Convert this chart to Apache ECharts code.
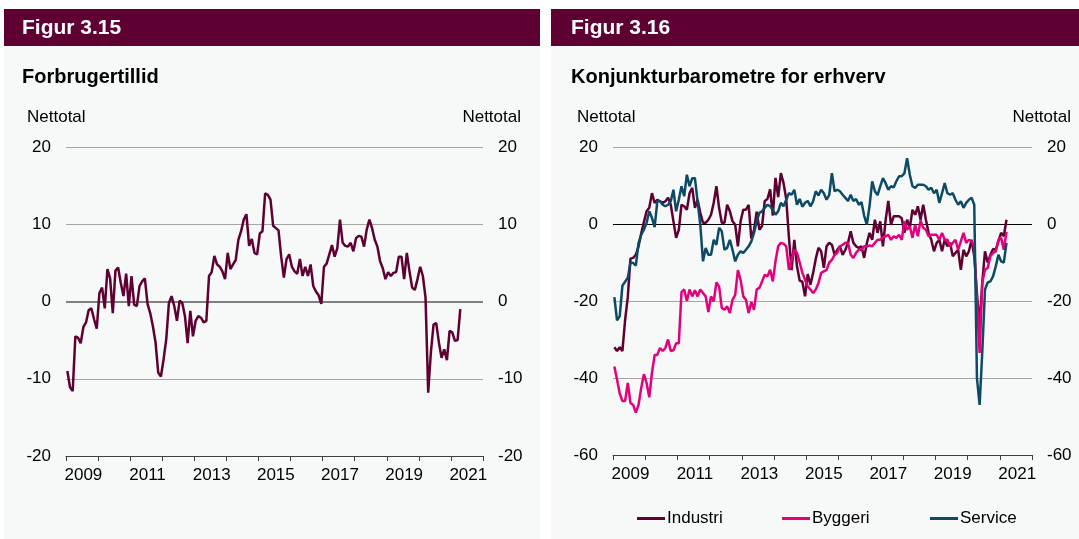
<!DOCTYPE html>
<html>
<head>
<meta charset="utf-8">
<script src="https://cdn.jsdelivr.net/npm/echarts@6/dist/echarts.min.js"></script>
<style>
  html, body { margin: 0; padding: 0; background: #ffffff; }
  #chart { width: 1079px; height: 539px; }
</style>
</head>
<body>
<div id="chart"></div>
<script>
  // maaneder jan 2009 - dec 2021 (kategoriakse)
  const firstYear = 2009
  const lastYear = 2021
  const months = []
  for (let y = firstYear; y <= lastYear; y++) {
    for (let m = 1; m <= 12; m++) months.push(y + '-' + (m < 10 ? '0' + m : m))
  }

  // Figur 3.15 - forbrugertillid, nettotal (jan 2009 - apr 2021)
  const forbrugertillid = [
    -9.0, -11.1, -11.6, -4.5, -4.7, -5.4, -3.3, -2.7, -1.1, -0.9, -2.3, -3.5,
    1.1, 1.8, -0.9, 4.2, 3.0, -1.5, 4.0, 4.4, 2.4, 0.7, 3.6, -0.6,
    3.3, -0.4, -0.6, 2.0, 2.6, 3.0, -0.3, -1.5, -3.2, -5.3, -9.2, -9.7,
    -7.5, -4.9, -0.2, 0.7, -0.6, -2.5, 0.1, -0.2, -1.9, -5.4, -1.2, -4.5,
    -2.5, -1.9, -2.1, -2.7, -2.5, 3.3, 3.8, 5.9, 4.8, 4.5, 3.9, 2.9,
    6.3, 4.2, 4.8, 5.4, 8.0, 9.1, 10.6, 11.3, 7.2, 8.1, 6.3, 6.1,
    8.8, 9.1, 14.0, 13.8, 13.2, 9.8, 9.5, 9.2, 5.8, 3.1, 5.5, 6.1,
    4.5, 3.9, 3.6, 5.5, 3.3, 4.5, 3.3, 4.8, 2.0, 1.3, 0.8, -0.3,
    4.5, 4.9, 6.1, 7.3, 5.8, 6.9, 10.6, 7.6, 7.2, 7.1, 7.6, 6.5,
    8.2, 8.5, 8.4, 7.1, 9.3, 10.6, 9.5, 8.0, 7.1, 5.2, 4.3, 2.9,
    3.8, 3.3, 3.7, 3.8, 5.8, 5.8, 2.9, 6.3, 3.9, 1.8, 1.5, 2.9,
    4.5, 3.3, 0.5, -11.8, -6.6, -3.0, -2.8, -5.3, -7.3, -6.2, -7.6, -3.8,
    -4.0, -5.1, -5.0, -1.0
  ]

  // Figur 3.16 - konjunkturbarometre, nettotal (jan 2009 - mar 2021)
  const industri = [
    -32, -33, -32, -33, -25, -19, -9, -8.8, -8, -5.8, -2.5, 0.5,
    3.3, 4.2, 8, 5.5, 6.3, 5.9, 5.5, 5.9, 6.8, 5, 0.7, -3.6,
    -1.5, 5, 4.6, 3.7, 8, 9.4, 4.2, 6.3, 2.9, 0.3, 0.3, 1.1,
    2.4, 5.5, 9.8, 4.2, 0.3, 0.3, 5, 3.3, 0.7, -0.2, -5.8, 0.7,
    3.7, 3.7, 5, -3.8, -1.5, 3.2, -1.5, -0.5, 6, 6.5, 9, 2.2,
    12, 7, 13.2, 10.6, 6.5, -3.5, -12, -4.1, -11, -14.7, -15, -18.8,
    -13, -15.8, -12.7, -9, -6.2, -7.1, -11.4, -5.8, -4.9, -5.4, -8, -6.7,
    -5.8, -8, -6.7, -4.9, -1.9, -4.9, -5.8, -6.2, -5.8, -8.8, -5, -2.3,
    -4.1, 1.1, -2.3, 0.7, -5.8, 1, 6, -0.2, 2, 2, 2, 1.5,
    -2.3, 1.1, -1, 3.7, 2.4, 4.6, 1.1, 5, 1.1, -2.3, -4.1, -7.1,
    -4.9, -4.1, -7.1, -4.1, -5.8, -4.9, -8.4, -7.5, -6.7, -11.9, -6.7, -8.4,
    -7.1, -4.1, -8.4, -18, -26.6, -15, -7.1, -10, -8, -6.5, -6.7, -4.5,
    -2.3, -3.2, 1.1
  ]
  const byggeri = [
    -37, -40.4, -44, -46, -46, -41.3, -46.5, -47, -49, -47, -42.6, -39,
    -41.3, -45, -38.7, -34, -34, -32.2, -33, -32.2, -30, -33, -32.8, -31,
    -31, -17.7, -17, -20, -17, -18.8, -17.2, -18.8, -17, -17.9, -18.8, -22.9,
    -18.8, -20.1, -15.2, -16.2, -21.8, -22.3, -21.4, -23.1, -19.7, -18.4, -12, -14.5,
    -18.8, -19.7, -23.1, -20.3, -22.3, -17, -16.6, -14.9, -13.2, -13.6, -11.9, -14.9,
    -9.7, -5.8, -4.9, -5.1, -5.8, -11.9, -9.3, -6.7, -7.5, -10, -12.7, -14.5,
    -16.2, -17, -17.9, -17, -15.3, -12.7, -12.3, -11.9, -10, -9.3, -8, -7.5,
    -5.8, -5.4, -4.9, -4.9, -8, -8.8, -7.5, -6.7, -6.7, -5.8, -5.8, -5.6,
    -5.8, -4.9, -4.1, -4.1, -3.4, -3.2, -2.8, -4.1, -3.2, -3.6, -2.8, -4.1,
    0.7, -1.5, -0.6, -3.6, -0.2, -3.2, 0.9, -1, -1.5, -3.2, -2.8, -2.8,
    -2.8, -4.1, -2.3, -4.1, -4.1, -5.8, -4.9, -4.1, -6.7, -4.5, -2.3, -4.9,
    -4.1, -4.5, -5.8, -20, -33.5, -15.2, -11.9, -11.4, -8.4, -7.5, -7.1, -4.1,
    -3.6, -6.7, -2
  ]
  const service = [
    -19, -25, -24, -16, -15, -14, -10, -10.1, -10.8, -5, -2.8, -1.5,
    0.3, 3.3, 1.6, -0.8, 5.9, 5.9, 5, 4.6, 5, 5.9, 8.9, 3.3,
    6.3, 9.8, 7.2, 12.8, 9.8, 11.9, 11.9, 5.9, -0.2, -9.7, -6.2, -8,
    -8, -4.1, -5.4, -1, -1.9, -6.7, -6.2, -4.1, -6.7, -9.7, -8, -7.1,
    -7.5, -6.7, -5.8, -4.5, -2.3, 0.7, 2.9, 3.3, 4.2, 5, 4.6, 3.7,
    2.4, 3.3, 5.5, 4.6, 6.3, 8, 7.6, 8.9, 5, 6.5, 4.5, 5.5,
    6, 4.6, 5.9, 8.5, 7.4, 8.9, 8, 6.3, 7.5, 13.2, 8.5, 8.9,
    8.5, 7.6, 6.8, 6, 7.6, 6, 6.5, 5, 5.7, 2.2, -0.2, 4.6,
    11.1, 8.5, 7.5, 9.8, 11.9, 10.6, 8.9, 9.8, 9.5, 11.1, 12.4, 12.4,
    13.2, 17.1, 12.8, 9.8, 9.4, 10.2, 10.2, 10.2, 9.8, 8.9, 9.4, 8,
    8.9, 5.5, 8, 10.6, 8, 7.6, 8, 6.3, 5, 5.9, 4.2, 5.5,
    6.3, 6.8, 5, -40, -47, -33, -17, -15.2, -14.9, -13.6, -11, -8,
    -9.7, -10, -4.9
  ]

  const maroon = '#5f0032'
  const pink = '#e4007c'
  const petrol = '#0c4a66'
  const grey = '#a6a6a6'
  const clear = 'rgba(0,0,0,0)'
  const fontFamily = '"Liberation Sans", Arial, sans-serif'

  let myChart = echarts.init(document.getElementById('chart'))

  function xAxisFor (gridIndex) {
    return {
      type: 'category',
      gridIndex: gridIndex,
      position: 'bottom',
      data: months,
      boundaryGap: true,
      axisLine: { show: true, onZero: false, lineStyle: { color: '#404040', width: 1 } },
      axisTick: {
        show: true,
        interval: (i) => i % 12 === 0,
        length: 5,
        lineStyle: { color: '#404040', width: 1 }
      },
      axisLabel: {
        interval: (i) => i % 24 === 6,
        formatter: (v) => v.slice(0, 4),
        color: '#000',
        fontSize: 17,
        fontFamily: fontFamily,
        margin: 11
      },
      splitLine: { show: false }
    }
  }

  function yAxisFor (gridIndex, position, min, max, step, lineColors, lineWidth) {
    return {
      type: 'value',
      gridIndex: gridIndex,
      position: position,
      min: min,
      max: max,
      interval: step,
      axisLine: { show: false },
      axisTick: { show: false },
      axisLabel: { color: '#000', fontSize: 17, fontFamily: fontFamily, margin: 15 },
      splitLine: { lineStyle: { color: lineColors, width: lineWidth } }
    }
  }

  function legendFor (name, left) {
    return {
      data: [name],
      left: left,
      top: 510,
      padding: 0,
      icon: 'rect',
      itemWidth: 28,
      itemHeight: 3,
      textStyle: { color: '#000', fontSize: 17, fontFamily: fontFamily, padding: [0, 0, 0, -3] }
    }
  }

  function text (x, y, str, opts) {
    return {
      type: 'text',
      x: x,
      y: y,
      style: Object.assign({
        text: str,
        fill: '#000',
        font: '17px ' + fontFamily,
        textAlign: 'left',
        textVerticalAlign: 'middle'
      }, opts || {})
    }
  }

  myChart.setOption({
    animation: false,
    backgroundColor: '#ffffff',
    textStyle: { fontFamily: fontFamily },
    graphic: [
      { type: 'rect', z: -10, shape: { x: 4, y: 9, width: 536, height: 530 }, style: { fill: '#f7f8f8' } },
      { type: 'rect', z: -10, shape: { x: 551, y: 9, width: 528, height: 530 }, style: { fill: '#f7f8f8' } },
      { type: 'rect', z: -9, shape: { x: 4, y: 9, width: 536, height: 37 }, style: { fill: maroon } },
      { type: 'rect', z: -9, shape: { x: 551, y: 9, width: 528, height: 37 }, style: { fill: maroon } },
      text(22, 28, 'Figur 3.15', { fill: '#fff', font: 'bold 21px ' + fontFamily }),
      text(571, 28, 'Figur 3.16', { fill: '#fff', font: 'bold 21px ' + fontFamily }),
      text(22, 77, 'Forbrugertillid', { font: 'bold 20px ' + fontFamily }),
      text(571, 77, 'Konjunkturbarometre for erhverv', { font: 'bold 20px ' + fontFamily }),
      text(27, 117, 'Nettotal'),
      text(521, 117, 'Nettotal', { textAlign: 'right' }),
      text(577, 117, 'Nettotal'),
      text(1071, 117, 'Nettotal', { textAlign: 'right' })
    ],
    grid: [
      { left: 66, top: 147, width: 417, height: 309 },
      { left: 613, top: 147, width: 419, height: 308 }
    ],
    legend: [
      legendFor('Industri', 637),
      legendFor('Byggeri', 782),
      legendFor('Service', 930)
    ],
    xAxis: [xAxisFor(0), xAxisFor(1)],
    yAxis: [
      yAxisFor(0, 'left', -20, 20, 10, [clear, grey, clear, grey, grey], 1),
      yAxisFor(0, 'right', -20, 20, 10, [clear, clear, '#7f7f7f', clear, clear], 2),
      yAxisFor(1, 'left', -60, 20, 20, [clear, grey, grey, clear, grey], 1),
      yAxisFor(1, 'right', -60, 20, 20, [clear, clear, clear, '#000000', clear], 1)
    ],
    series: [
      {
        name: 'Forbrugertillid',
        type: 'line',
        xAxisIndex: 0,
        yAxisIndex: 0,
        symbol: 'none',
        lineStyle: { color: maroon, width: 2.5 },
        itemStyle: { color: maroon },
        data: forbrugertillid
      },
      {
        name: 'Industri',
        type: 'line',
        xAxisIndex: 1,
        yAxisIndex: 2,
        symbol: 'none',
        lineStyle: { color: maroon, width: 2.5 },
        itemStyle: { color: maroon },
        data: industri
      },
      {
        name: 'Byggeri',
        type: 'line',
        xAxisIndex: 1,
        yAxisIndex: 2,
        symbol: 'none',
        lineStyle: { color: pink, width: 2.5 },
        itemStyle: { color: pink },
        data: byggeri
      },
      {
        name: 'Service',
        type: 'line',
        xAxisIndex: 1,
        yAxisIndex: 2,
        symbol: 'none',
        lineStyle: { color: petrol, width: 2.5 },
        itemStyle: { color: petrol },
        data: service
      }
    ]
  })
</script>
</body>
</html>
